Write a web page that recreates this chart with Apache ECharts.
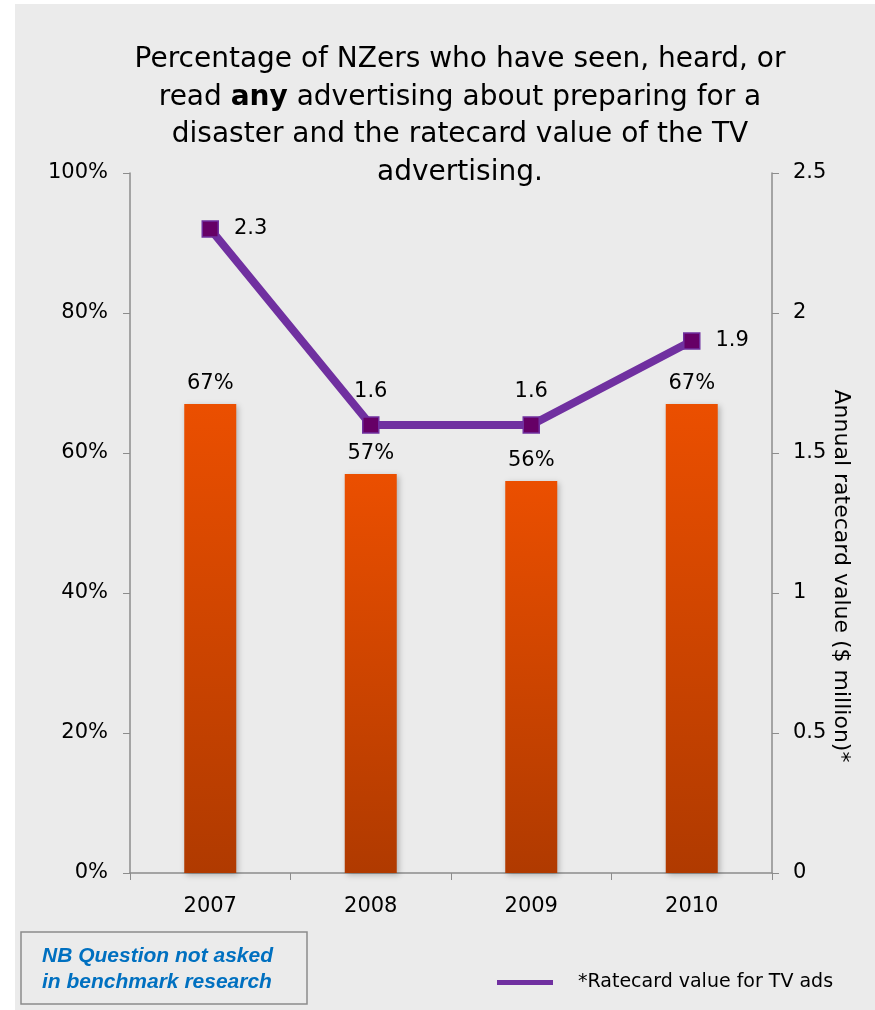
<!DOCTYPE html>
<html>
<head>
<meta charset="utf-8">
<script src="https://cdn.jsdelivr.net/npm/echarts@6/dist/echarts.min.js"></script>
<style>
  html, body { margin: 0; padding: 0; background: #ffffff; }
  #chart { width: 875px; height: 1010px; }
</style>
</head>
<body>
<div id="chart"></div>
<script>
// Survey years
const years = ['2007', '2008', '2009', '2010'];
// Share of NZers who saw/heard/read any preparedness advertising (%)
const awareness = [67, 57, 56, 67];
// Annual ratecard value of the TV advertising ($ million)
const ratecard = [2.3, 1.6, 1.6, 1.9];
// Where each ratecard label sits relative to its point
const ratecardLabelPos = ['right', 'top', 'top', 'right'];
// Left and right axis tick labels
const pctTicks = ['0%', '20%', '40%', '60%', '80%', '100%'];
const valueTicks = ['0', '0.5', '1', '1.5', '2', '2.5'];

const FONT = 'DejaVu Sans';
const chart = echarts.init(document.getElementById('chart'));

const option = {
  backgroundColor: '#ffffff',
  animation: false,
  textStyle: { fontFamily: FONT, color: '#000' },
  graphic: [
    { type: 'rect', z: -10, shape: { x: 15, y: 4, width: 860, height: 1006 }, style: { fill: '#ebebeb' } },
    {
      type: 'text', x: 460, y: 41, z: 10,
      style: {
        text: 'Percentage of NZers who have seen, heard, or\nread {b|any} advertising about preparing for a\ndisaster and the ratecard value of the TV\nadvertising.',
        font: '28px "' + FONT + '"',
        fill: '#000',
        align: 'center',
        verticalAlign: 'top',
        lineHeight: 37.5,
        rich: { b: { fontWeight: 'bold', fontSize: 28, fontFamily: FONT, lineHeight: 37.5 } }
      }
    },
    {
      type: 'text', x: 841, y: 576, rotation: -Math.PI / 2,
      style: {
        text: 'Annual ratecard value ($ million)*',
        font: '22px "' + FONT + '"', fill: '#000',
        align: 'center', verticalAlign: 'middle'
      }
    },
    { type: 'rect', shape: { x: 21, y: 932, width: 286, height: 72 }, style: { fill: 'none', stroke: '#8c8c8c', lineWidth: 1.5 } },
    {
      type: 'text', x: 42, y: 943,
      style: {
        text: 'NB Question not asked\nin benchmark research',
        font: 'italic bold 21px "Liberation Sans"', fill: '#0070c0', lineHeight: 26
      }
    }
  ],
  legend: {
    data: [{ name: '*Ratecard value for TV ads', icon: 'rect', itemStyle: { color: '#7030a0', borderWidth: 0 } }],
    left: 497, top: 973, padding: 0,
    itemWidth: 56, itemHeight: 5, itemGap: 0,
    textStyle: { fontFamily: FONT, fontSize: 19, color: '#000', padding: [0, 0, 0, 20] }
  },
  grid: { left: 130, right: 103, top: 173, bottom: 137 },
  xAxis: {
    type: 'category',
    data: years,
    axisLine: { lineStyle: { color: '#8c8c8c', width: 1.5 } },
    axisTick: { show: true, length: 7, lineStyle: { color: '#8c8c8c' } },
    axisLabel: { fontSize: 21, color: '#000', margin: 23, fontFamily: FONT }
  },
  yAxis: [
    {
      type: 'value', min: 0, max: 100, interval: 20,
      axisLine: { show: true, lineStyle: { color: '#8c8c8c', width: 1.5 } },
      axisTick: { show: true, length: 7, lineStyle: { color: '#8c8c8c' } },
      splitLine: { show: false },
      axisLabel: { fontSize: 21, color: '#000', margin: 22, fontFamily: FONT,
        formatter: v => pctTicks[Math.round(v / 20)] }
    },
    {
      type: 'value', min: 0, max: 2.5, interval: 0.5,
      axisLine: { show: true, lineStyle: { color: '#8c8c8c', width: 1.5 } },
      axisTick: { show: true, length: 7, lineStyle: { color: '#8c8c8c' } },
      splitLine: { show: false },
      axisLabel: { fontSize: 21, color: '#000', margin: 21, fontFamily: FONT,
        formatter: v => valueTicks[Math.round(v / 0.5)] }
    }
  ],
  series: [
    {
      name: 'Awareness',
      type: 'bar',
      yAxisIndex: 0,
      data: awareness,
      barWidth: 52,
      itemStyle: {
        color: new echarts.graphic.LinearGradient(0, 0, 0, 1, [
          { offset: 0, color: '#eb4f00' },
          { offset: 1, color: '#b03a00' }
        ]),
        shadowColor: 'rgba(0,0,0,0.25)', shadowBlur: 6, shadowOffsetX: 2, shadowOffsetY: 2
      },
      label: {
        show: true, position: 'top', distance: 10,
        fontSize: 21, color: '#000', fontFamily: FONT,
        formatter: p => p.value + '%'
      },
      z: 2
    },
    {
      name: '*Ratecard value for TV ads',
      type: 'line',
      yAxisIndex: 1,
      data: ratecard.map((v, i) => ({
        value: v,
        label: { position: ratecardLabelPos[i], distance: ratecardLabelPos[i] === 'top' ? 14 : 15 }
      })),
      lineStyle: { color: '#7030a0', width: 8 },
      itemStyle: { color: '#660066', borderColor: '#7030a0', borderWidth: 1.5 },
      symbol: 'rect',
      symbolSize: 16,
      label: {
        show: true, fontSize: 21, color: '#000', fontFamily: FONT,
        formatter: p => String(p.value)
      },
      z: 5
    }
  ]
};

chart.setOption(option);
</script>
</body>
</html>
